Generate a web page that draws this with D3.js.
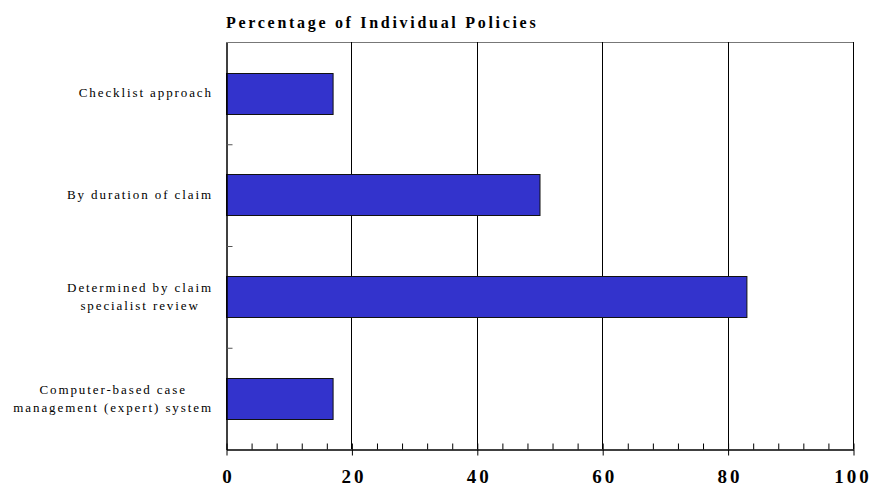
<!DOCTYPE html>
<html>
<head>
<meta charset="utf-8">
<script src="https://cdn.jsdelivr.net/npm/d3@7"></script>
<style>
  html, body { margin: 0; padding: 0; background: #fff; }
  svg { display: block; }
  text { font-family: "Liberation Serif", "Times New Roman", serif; fill: #000; }
</style>
</head>
<body>
<svg id="chart" width="872" height="487"></svg>
<script>
// Ways of managing individual disability claims
const categories = [
  ["Checklist approach"],
  ["By duration of claim"],
  ["Determined by claim", "specialist review"],
  ["Computer-based case", "management (expert) system"]
];
const values = [17, 50, 83, 17];
const xTicks = [0, 20, 40, 60, 80, 100];
const xMinorTicks = d3.range(0, 101, 4);
const title = "Percentage of Individual Policies";

const svg = d3.select("#chart");
const plotLeft = 226, plotRight = 853, plotTop = 42, plotBottom = 449;

const x = d3.scaleLinear().domain([0, 100]).range([plotLeft, plotRight]);
const y = d3.scaleBand().domain(d3.range(categories.length)).range([plotTop, plotBottom]).padding(0);
const yEdge = d3.scaleLinear().domain([0, categories.length]).range([plotTop, plotBottom]);

// plot frame (top edge)
svg.append("line")
  .attr("x1", plotLeft).attr("x2", plotRight)
  .attr("y1", plotTop + 0.5).attr("y2", plotTop + 0.5)
  .attr("stroke", "#777").attr("stroke-width", 1);

// vertical gridlines at the major ticks
svg.append("g")
  .selectAll("line")
  .data(xTicks.slice(1))
  .join("line")
  .attr("x1", d => Math.round(x(d)) + 0.5)
  .attr("x2", d => Math.round(x(d)) + 0.5)
  .attr("y1", plotTop)
  .attr("y2", plotBottom)
  .attr("stroke", "#000")
  .attr("stroke-width", 1);

// bars
const barH = y.bandwidth() * 0.4;
svg.append("g")
  .selectAll("rect")
  .data(values)
  .join("rect")
  .attr("x", x(0) + 0.5)
  .attr("y", (d, i) => Math.round(y(i) + (y.bandwidth() - barH) / 2) + 0.5)
  .attr("width", d => x(d) - x(0))
  .attr("height", Math.round(barH))
  .attr("fill", "#3333cc")
  .attr("stroke", "#111")
  .attr("stroke-width", 1);

// minor ticks pointing into the plot
svg.append("g")
  .attr("transform", `translate(0.5,${plotBottom + 0.5})`)
  .call(d3.axisBottom(x).tickValues(xMinorTicks).tickSize(-6).tickFormat(""))
  .call(g => g.select(".domain").remove())
  .call(g => g.selectAll("line").attr("stroke", "#000"));

// bottom axis with major ticks and labels
const ls = 3;
const lastTick = xTicks[xTicks.length - 1];
svg.append("g")
  .attr("transform", `translate(0.5,${plotBottom + 0.5})`)
  .call(d3.axisBottom(x).tickValues(xTicks).tickSize(6).tickSizeOuter(0).tickPadding(14))
  .call(g => g.select(".domain").attr("stroke", "#000").attr("stroke-width", 1.5))
  .call(g => g.selectAll("line").attr("stroke", "#000"))
  .call(g => g.selectAll("text")
    .attr("font-family", "Liberation Serif, Times New Roman, serif")
    .attr("font-size", 19)
    .attr("font-weight", "bold")
    .attr("letter-spacing", ls + "px")
    .attr("dx", d => d === lastTick ? -1 : ls / 2)
    .attr("fill", "#000"));

// left axis line and category boundary ticks
svg.append("g")
  .attr("transform", `translate(${plotLeft + 0.5},0.5)`)
  .call(d3.axisLeft(yEdge).tickValues([1, 2, 3]).tickSize(-6).tickSizeOuter(0).tickFormat(""))
  .call(g => g.select(".domain").attr("stroke", "#000").attr("stroke-width", 1.5))
  .call(g => g.selectAll(".tick line").attr("stroke", "#555"));

// category labels: lines centred on each other, block right-aligned
const labelRight = 212;
const lineH = 18;
const labelLs = 1.9;
categories.forEach((lines, i) => {
  const g = svg.append("g");
  const cy = y(i) + y.bandwidth() / 2;
  const texts = g.selectAll("text")
    .data(lines)
    .join("text")
    .attr("font-size", 13)
    .attr("letter-spacing", labelLs + "px")
    .attr("fill", "#222")
    .attr("text-anchor", "middle")
    .attr("dominant-baseline", "central")
    .attr("y", (d, j) => cy + (j - (lines.length - 1) / 2) * lineH)
    .text(d => d);
  const maxW = d3.max(texts.nodes(), n => n.getComputedTextLength());
  texts.attr("x", labelRight - maxW / 2 + labelLs / 2);
});

// title
svg.append("text")
  .attr("x", plotLeft)
  .attr("y", 28)
  .attr("font-size", 16)
  .attr("font-weight", "bold")
  .attr("letter-spacing", "2.7px")
  .text(title);
</script>
</body>
</html>
